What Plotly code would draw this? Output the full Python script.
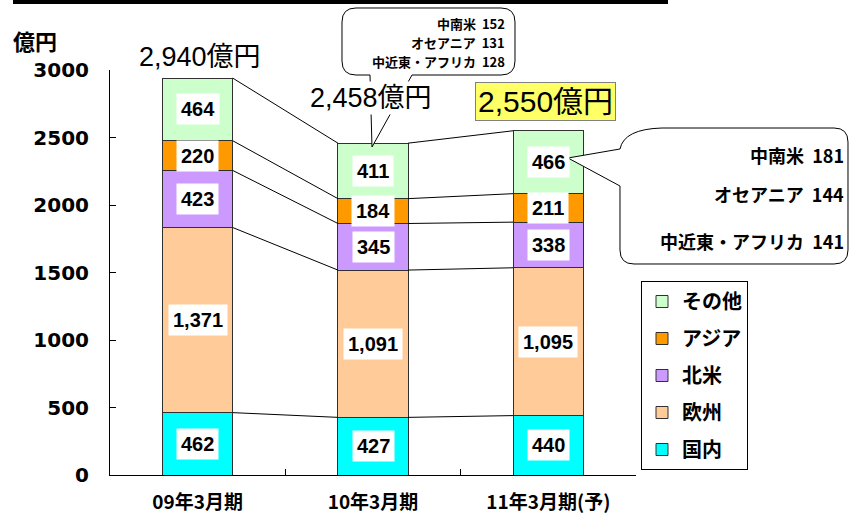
import plotly.graph_objects as go

categories = ["09年3月期", "10年3月期", "11年3月期(予)"]
segment_names = ["国内", "欧州", "北米", "アジア", "その他"]
segment_colors = ["#00FFFF", "#FFCC99", "#CC99FF", "#FF9900", "#CCFFCC"]
domestic = [462, 427, 440]
europe = [1371, 1091, 1095]
north_america = [423, 345, 338]
asia = [220, 184, 211]
others = [464, 411, 466]
totals = [2940, 2458, 2550]
total_labels = ["2,940億円", "2,458億円", "2,550億円"]
bubble_regions = ["中南米", "オセアニア", "中近東・アフリカ"]
bubble_10 = [152, 131, 128]
bubble_11 = [181, 144, 141]

series = [domestic, europe, north_america, asia, others]

W, H = 857, 516
L, R, T, B = 110, 221, 70, 41
PW, PH = W - L - R, H - T - B


def px(x):
    return (x - L) / PW


def py(y):
    return (H - B - y) / PH


def P(x, y):
    return f"{px(x):.5f},{py(y):.5f}"


JP = "Noto Sans CJK JP"
NUM = "Liberation Sans, Arial, " + JP

fig = go.Figure()
for k, (name, vals, color) in enumerate(zip(segment_names, series, segment_colors)):
    fig.add_trace(go.Bar(
        x=categories, y=vals, name=f"<b>{name}</b>", legendgroup=name,
        legendrank=len(series) - k,
        marker=dict(color=color, line=dict(color="#303030", width=1)),
    ))

# cumulative boundaries
cum = []
run = [0, 0, 0]
for vals in series:
    run = [a + b for a, b in zip(run, vals)]
    cum.append(run)

half = 0.2
shapes = []
# connector lines between neighbouring bars
for level in cum:
    for i in range(2):
        shapes.append(dict(type="line", xref="x", yref="y",
                           x0=i + half, y0=level[i], x1=i + 1 - half, y1=level[i + 1],
                           line=dict(color="black", width=1)))

# value labels
annotations = []
bottom = [0, 0, 0]
for vals in series:
    for i, v in enumerate(vals):
        annotations.append(dict(
            x=i, y=bottom[i] + v / 2, xref="x", yref="y", text=f"<b>{v:,}</b>",
            showarrow=False, bgcolor="white", borderpad=4,
            font=dict(family=NUM, size=20, color="black"),
        ))
    bottom = [a + b for a, b in zip(bottom, vals)]

# totals
TOT = "Liberation Sans, Arial, " + JP
annotations.append(dict(x=0, y=totals[0], xref="x", yref="y", text=total_labels[0],
                        showarrow=False, yanchor="bottom", yshift=4, xshift=2,
                        font=dict(family=TOT, size=27, color="black")))
annotations.append(dict(x=1, y=totals[1], xref="x", yref="y", text=total_labels[1],
                        showarrow=False, yanchor="bottom", yshift=28, xshift=-2,
                        bgcolor="white",
                        font=dict(family=TOT, size=27, color="black")))
annotations.append(dict(x=2, y=totals[2], xref="x", yref="y", text=total_labels[2],
                        showarrow=False, yanchor="bottom", yshift=10, xshift=-3,
                        bgcolor="#FFFF66", bordercolor="#808080", borderwidth=1, borderpad=2,
                        font=dict(family=TOT, size=30, color="black")))

# unit label
annotations.append(dict(x=px(11), y=py(40), xref="paper", yref="paper", text="<b>億円</b>",
                        showarrow=False, xanchor="left", yanchor="middle",
                        font=dict(family=JP, size=22, color="black")))

# bubble texts
for k, (r, v) in enumerate(zip(bubble_regions, bubble_10)):
    annotations.append(dict(x=px(507), y=py([23, 42, 61][k]), xref="paper", yref="paper",
                            text=f"<b>{r}  {v}</b>", showarrow=False,
                            xanchor="right", yanchor="middle",
                            font=dict(family=JP, size=13, color="black")))
for k, (r, v) in enumerate(zip(bubble_regions, bubble_11)):
    annotations.append(dict(x=px(846), y=py([155, 194, 241][k]), xref="paper", yref="paper",
                            text=f"<b>{r}  {v}</b>", showarrow=False,
                            xanchor="right", yanchor="middle",
                            font=dict(family=JP, size=18, color="black")))

top_bubble = ("M " + P(372, 147) + " L " + P(370, 75) + " L " + P(356, 75) +
              " Q " + P(342, 75) + " " + P(342, 61) + " L " + P(342, 22) +
              " Q " + P(342, 8) + " " + P(356, 8) + " L " + P(501, 8) +
              " Q " + P(515, 8) + " " + P(515, 22) + " L " + P(515, 61) +
              " Q " + P(515, 75) + " " + P(501, 75) + " L " + P(412, 75) + " Z")
right_bubble = ("M " + P(568, 158) + " L " + P(620, 149) + " Q " + P(624, 129) + " " + P(662, 128) +
                " L " + P(834, 128) + " Q " + P(848, 128) + " " + P(848, 142) +
                " L " + P(848, 250) + " Q " + P(848, 264) + " " + P(834, 264) +
                " L " + P(634, 264) + " Q " + P(620, 264) + " " + P(620, 250) +
                " L " + P(620, 186) + " Z")
for pth in (top_bubble, right_bubble):
    shapes.append(dict(type="path", xref="paper", yref="paper", path=pth,
                       fillcolor="white", line=dict(color="black", width=1)))

# top black rule
shapes.append(dict(type="rect", xref="paper", yref="paper",
                   x0=px(13), x1=px(668), y0=py(0), y1=py(4),
                   fillcolor="black", line=dict(width=0)))

fig.update_layout(
    width=W, height=H,
    margin=dict(l=L, r=R, t=T, b=B, autoexpand=False),
    barmode="stack", bargap=0.6,
    plot_bgcolor="white", paper_bgcolor="white",
    showlegend=True,
    legend=dict(x=px(641), y=py(281), xanchor="left", yanchor="top",
                traceorder="grouped", tracegroupgap=8,
                bordercolor="black", borderwidth=1, bgcolor="white",
                font=dict(family=JP, size=20, color="black")),
    shapes=shapes, annotations=annotations,
)
fig.update_yaxes(range=[0, 3000], dtick=500, showgrid=False, zeroline=False,
                 showline=True, linecolor="black", linewidth=1, automargin=False,
                 ticks="inside", ticklen=6, tickcolor="black",
                 ticklabelstandoff=16,
                 tickfont=dict(family="DejaVu Sans, Liberation Sans", size=20, color="black"),
                 tickprefix="<b>", ticksuffix="</b>")
fig.update_xaxes(showgrid=False, showline=True, linecolor="black", linewidth=1,
                 automargin=False,
                 ticks="inside", tickson="boundaries", ticklen=6, tickcolor="black",
                 ticklabelstandoff=10,
                 tickfont=dict(family=JP, size=19, color="black"),
                 tickvals=categories, ticktext=[f"<b>{c}</b>" for c in categories])

# the page body has a default 8px margin; drop it so the figure fills the window
fig.write_html("out.html", config={"displayModeBar": False},
               post_script="document.body.style.margin='0';")
